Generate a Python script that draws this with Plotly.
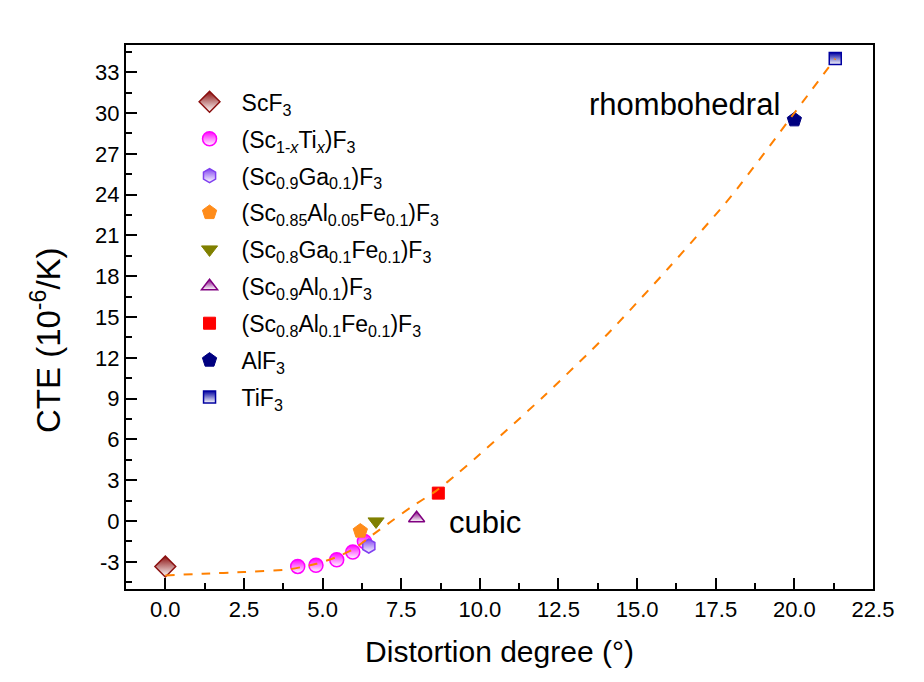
import plotly.graph_objects as go

# ---------------- data ----------------
scf3_x = [0.0]
scf3_y = [-3.35]

ti_x = [4.21, 4.79, 5.45, 5.96, 6.33]
ti_y = [-3.34, -3.26, -2.85, -2.28, -1.50]

ga_x = [6.47]
ga_y = [-1.84]

alfe05_x = [6.20]
alfe05_y = [-0.74]

gafe_x = [6.70]
gafe_y = [-0.03]

al_x = [7.99]
al_y = [0.20]

alfe_x = [8.68]
alfe_y = [2.05]

alf3_x = [20.0]
alf3_y = [29.5]

tif3_x = [21.3]
tif3_y = [34.0]

fit_x = [0, 1.2, 2.5, 3.9, 4.8, 5.5, 6.0, 6.6, 7.2, 7.8, 8.6, 9.3, 10, 12, 14, 16, 18, 20, 21.3]
fit_y = [-4.0, -3.88, -3.75, -3.56, -3.15, -2.6, -2.05, -1.0, 0.0, 1.0, 2.2, 3.5, 4.9, 9.1, 13.6, 18.6, 23.9, 30.0, 34.0]

x_ticks = [0, 2.5, 5, 7.5, 10, 12.5, 15, 17.5, 20, 22.5]
x_ticktext = ["0.0", "2.5", "5.0", "7.5", "10.0", "12.5", "15.0", "17.5", "20.0", "22.5"]
y_ticks = [-3, 0, 3, 6, 9, 12, 15, 18, 21, 24, 27, 30, 33]
y_ticktext = ["-3", "0", "3", "6", "9", "12", "15", "18", "21", "24", "27", "30", "33"]

FONT = "Liberation Sans, Arial, sans-serif"

fig = go.Figure()


def half(name, xs, ys, symbol, color, size, group):
    fig.add_trace(go.Scatter(
        x=xs, y=ys, mode="markers", name=name, legendgroup=group,
        marker=dict(symbol=symbol, size=size, color=color,
                    gradient=dict(type="vertical", color="white"),
                    line=dict(color=color, width=1.5)),
    ))


def solid(name, xs, ys, symbol, color, size, group):
    fig.add_trace(go.Scatter(
        x=xs, y=ys, mode="markers", name=name, legendgroup=group,
        marker=dict(symbol=symbol, size=size, color=color,
                    line=dict(color=color, width=1)),
    ))


half("ScF<sub>3</sub>", scf3_x, scf3_y, "diamond", "#8B1010", 16, "g1")
half("(Sc<sub>1-<i>x</i></sub>Ti<sub><i>x</i></sub>)F<sub>3</sub>", ti_x, ti_y, "circle", "#FF00FF", 14, "g2")
half("(Sc<sub>0.9</sub>Ga<sub>0.1</sub>)F<sub>3</sub>", ga_x, ga_y, "hexagon", "#8040F0", 14, "g3")
solid("(Sc<sub>0.85</sub>Al<sub>0.05</sub>Fe<sub>0.1</sub>)F<sub>3</sub>", alfe05_x, alfe05_y, "pentagon", "#FF8C1A", 15, "g4")
solid("(Sc<sub>0.8</sub>Ga<sub>0.1</sub>Fe<sub>0.1</sub>)F<sub>3</sub>", gafe_x, gafe_y, "triangle-down", "#808000", 14, "g5")
half("(Sc<sub>0.9</sub>Al<sub>0.1</sub>)F<sub>3</sub>", al_x, al_y, "triangle-up", "#800080", 14, "g6")
solid("(Sc<sub>0.8</sub>Al<sub>0.1</sub>Fe<sub>0.1</sub>)F<sub>3</sub>", alfe_x, alfe_y, "square", "#FF0000", 12, "g7")
solid("AlF<sub>3</sub>", alf3_x, alf3_y, "pentagon", "#000080", 15, "g8")
half("TiF<sub>3</sub>", tif3_x, tif3_y, "square", "#0000A0", 12, "g9")

fig.add_trace(go.Scatter(
    x=fit_x, y=fit_y, mode="lines", showlegend=False,
    line=dict(color="#FF8000", width=2, dash="dash", shape="spline", smoothing=0.6),
))

fig.add_annotation(x=16.5, y=30.6, text="rhombohedral", showarrow=False,
                   font=dict(family=FONT, size=31, color="black"))
fig.add_annotation(x=8.95, y=-0.1, text="cubic", showarrow=False, xanchor="left",
                   font=dict(family=FONT, size=31, color="black"))
fig.add_annotation(xref="paper", x=-(126 - 46) / 747, yref="paper", y=(589 - 340) / 544,
                   xanchor="center", yanchor="middle",
                   text="CTE (10<sup>-6</sup>/K)", showarrow=False, textangle=-90,
                   font=dict(family=FONT, size=33, color="black"))

axis_common = dict(
    showline=True, linewidth=2, linecolor="black", mirror=True,
    ticks="inside", ticklen=11, tickwidth=1.5, tickcolor="black",
    showgrid=False, zeroline=False,
    tickfont=dict(family=FONT, size=22, color="black"),
)

fig.update_layout(
    width=924, height=682,
    margin=dict(l=126, r=51, t=45, b=93),
    paper_bgcolor="white", plot_bgcolor="white",
    font=dict(family=FONT, color="black"),
    xaxis=dict(range=[-1.25, 22.5], tickvals=x_ticks, ticktext=x_ticktext,
               minor=dict(dtick=1.25, tick0=0, ticks="inside", ticklen=6, tickcolor="black"),
               title=dict(text="Distortion degree (°)", font=dict(family=FONT, size=30), standoff=20),
               **axis_common),
    yaxis=dict(range=[-5, 35], tickvals=y_ticks, ticktext=y_ticktext,
               minor=dict(dtick=1.5, tick0=0, ticks="inside", ticklen=6, tickcolor="black"),
               **axis_common),
    legend=dict(x=0.069, y=0.935, xanchor="left", yanchor="top",
                bgcolor="rgba(0,0,0,0)", font=dict(family=FONT, size=23, color="black"),
                tracegroupgap=4, itemwidth=54),
    showlegend=True,
)

fig.write_html("out.html")
